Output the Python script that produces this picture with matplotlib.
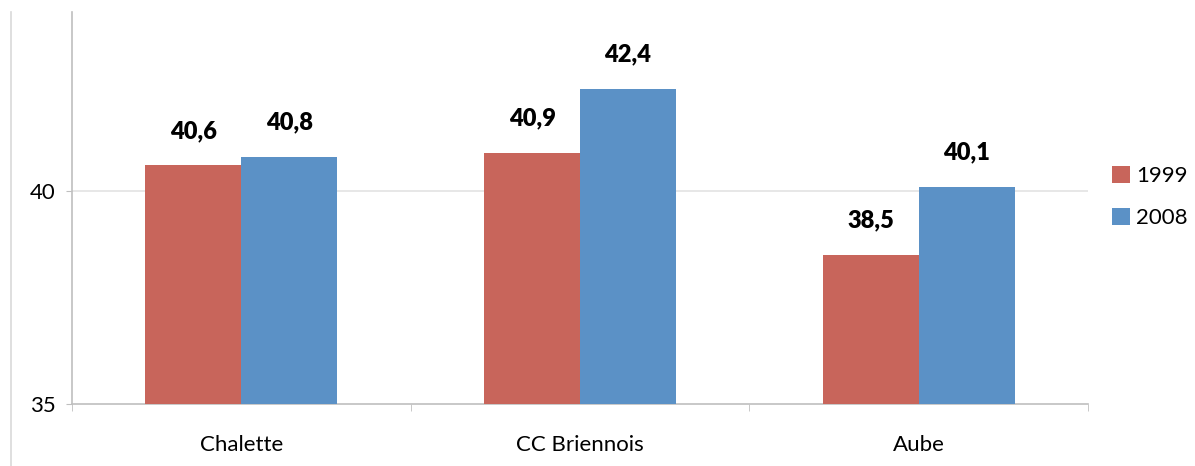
import matplotlib
matplotlib.use("Agg")
import matplotlib.pyplot as plt
from matplotlib.patches import Patch
from matplotlib.lines import Line2D
import numpy as np

plt.rcParams['font.family'] = ['Lato', 'DejaVu Sans']

categories = ["Chalette", "CC Briennois", "Aube"]
series_names = ["1999", "2008"]
values_1999 = [40.6, 40.9, 38.5]
values_2008 = [40.8, 42.4, 40.1]
y_ticks = [35, 40]

colors = ["#C8655B", "#5B91C6"]
W, H = 1195, 466
fig = plt.figure(figsize=(W / 100, H / 100), dpi=100)
ax = fig.add_axes([72 / W, (H - 404) / H, (1088 - 72) / W, (404 - 12) / H])

x = np.arange(len(categories))
bw = 0.283
bars_a = ax.bar(x - bw / 2, values_1999, bw, color=colors[0], zorder=3)
bars_b = ax.bar(x + bw / 2, values_2008, bw, color=colors[1], zorder=3)

# value labels above each bar, French decimal comma
for bars, vals in ((bars_a, values_1999), (bars_b, values_2008)):
    for b, v in zip(bars, vals):
        ax.annotate(f"{v:.1f}".replace(".", ","),
                    (b.get_x() + b.get_width() / 2, v),
                    xytext=(0, 19.5), textcoords="offset points",
                    ha="center", va="baseline", fontsize=17,
                    fontweight="heavy", color="black")

ax.set_xlim(-0.5, len(categories) - 0.5)
ax.set_ylim(35, 44.2)
ax.set_yticks(y_ticks)
ax.set_yticklabels([str(t) for t in y_ticks], fontsize=16)
ax.set_xticks(x)
ax.set_xticklabels(categories, fontsize=16)
ax.set_xticks(np.arange(-0.5, len(categories)), minor=True)
ax.tick_params(axis="x", which="major", length=0, pad=22)
ax.tick_params(axis="x", which="minor", length=5, color="#BFBFBF", direction="out")
ax.tick_params(axis="y", length=4.3, color="#BFBFBF", pad=7.5)

for t in y_ticks[1:]:
    ax.axhline(t, color="#E3E3E3", lw=1.2, zorder=1)

for s in ("top", "right"):
    ax.spines[s].set_visible(False)
for s in ("left", "bottom"):
    ax.spines[s].set_color("#BFBFBF")
    ax.spines[s].set_linewidth(1.2)

handles = [Patch(facecolor=c, label=n) for c, n in zip(colors, series_names)]
fig.legend(handles=handles, loc="center left",
           bbox_to_anchor=(1103 / W, (H - 197) / H), frameon=False,
           fontsize=16, handlelength=0.8, handleheight=0.8,
           handletextpad=0.3, labelspacing=1.0, borderaxespad=0)

# chart-area border on the left
fig.add_artist(Line2D([11 / W, 11 / W], [0, (H - 12) / H],
                      color="#D9D9D9", lw=1.2))

fig.savefig("out.png", dpi=100, facecolor="white")
